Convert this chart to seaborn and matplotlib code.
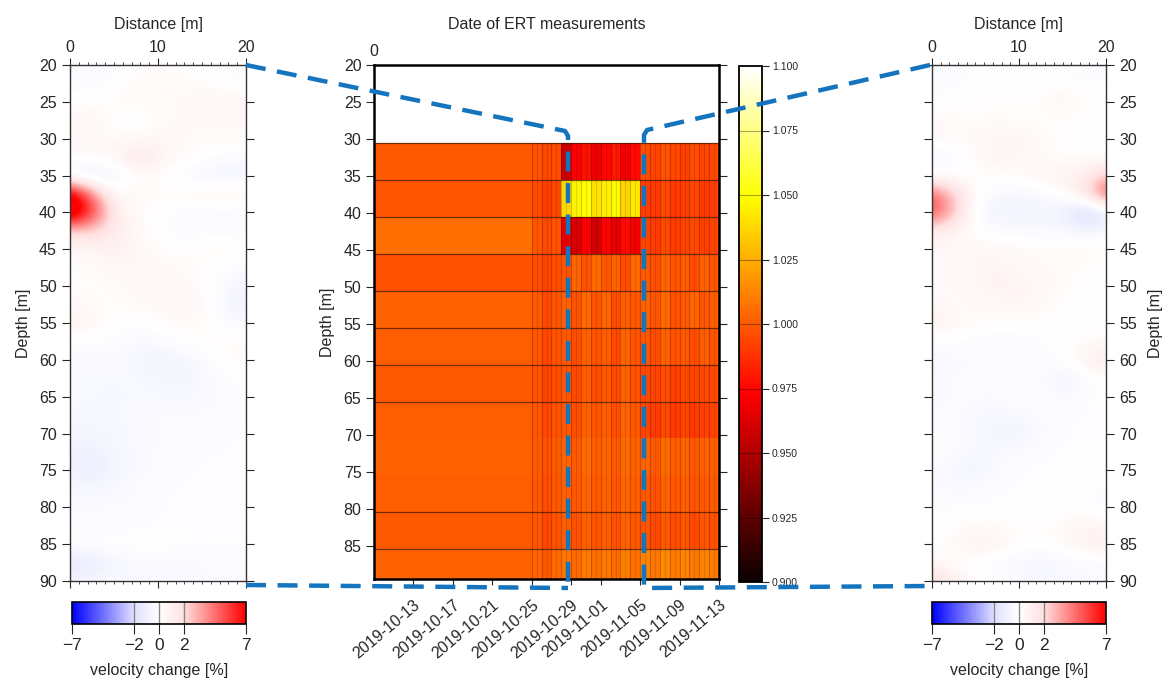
import numpy as np
import pandas as pd
import matplotlib
matplotlib.use("Agg")
import matplotlib.pyplot as plt
import seaborn as sns
from matplotlib.colors import LinearSegmentedColormap, Normalize
from matplotlib.lines import Line2D
import matplotlib.cm as cm

sns.set_style("ticks")
plt.rcParams["font.family"] = ["Liberation Sans", "DejaVu Sans"]

# ---------------- data ----------------
# velocity-change grids (percent); rows = depth 20..90 step 2.5, cols = distance 0..20 step 2.5
vc_depths = [20, 22.5, 25, 27.5, 30, 32.5, 35, 37.5, 40, 42.5, 45, 47.5, 50, 52.5, 55,
             57.5, 60, 62.5, 65, 67.5, 70, 72.5, 75, 77.5, 80, 82.5, 85, 87.5, 90]
vc_dist = [0, 2.5, 5, 7.5, 10, 12.5, 15, 17.5, 20]

vc_left = [
    [-0.3, -0.4, -0.3, 0.1, 0.3, 0.2, -0.1, -0.3, -0.3],
    [-0.3, -0.2, 0.0, 0.3, 0.4, 0.3, 0.2, 0.0, -0.1],
    [0.2, 0.0, 0.3, 0.4, 0.3, 0.4, 0.6, 0.7, 0.6],
    [0.7, 0.6, 0.1, -0.3, 0.3, 0.4, 0.4, 0.5, 0.4],
    [0.5, 0.4, 0.3, 0.4, 0.5, 0.4, 0.3, 0.3, 0.3],
    [0.3, 0.4, 0.7, 1.6, 1.0, 0.4, 0.1, -0.2, -0.3],
    [-0.8, -1.5, -1.0, 0.3, 0.0, -0.3, -0.7, -0.8, -0.7],
    [8.5, 4.0, 0.3, 0.4, 0.3, 0.4, 0.7, 0.8, 0.7],
    [9.5, 6.0, 1.2, 0.3, 0.0, -0.3, -0.4, -0.4, -0.4],
    [2.0, 2.2, 1.3, 0.4, 0.0, -0.3, -0.3, -0.3, -0.3],
    [0.4, 0.6, 0.8, 0.5, 0.3, 0.0, 0.3, 0.4, 0.1],
    [0.1, 0.3, 0.5, 0.7, 0.4, 0.4, 0.1, -0.1, -0.3],
    [0.3, 0.1, 0.3, 0.5, 0.7, 0.5, 0.3, -0.4, -0.7],
    [0.4, 0.3, 0.1, 0.3, 0.5, 0.7, 0.3, -0.5, -0.8],
    [1.1, 0.5, 0.1, 0.0, 0.1, 0.4, 0.3, -0.3, -0.5],
    [-0.3, -0.1, -0.3, -0.4, -0.3, 0.0, 0.1, 0.3, 0.4],
    [-0.4, -0.4, -0.3, -0.5, -0.8, -0.7, -0.3, 0.1, 0.4],
    [-0.4, -0.4, -0.4, -0.4, -0.5, -0.7, -0.5, -0.1, 0.1],
    [-0.4, -0.4, -0.5, -0.4, -0.4, -0.4, -0.4, -0.3, -0.1],
    [-0.4, -0.5, -0.4, -0.4, -0.3, -0.3, -0.3, -0.3, -0.1],
    [-0.6, -0.5, -0.5, -0.4, -0.3, -0.3, -0.3, -0.1, -0.1],
    [-0.8, -0.9, -0.5, -0.4, -0.3, -0.3, -0.1, -0.1, -0.1],
    [-0.8, -1.2, -0.6, -0.4, -0.3, -0.1, -0.1, -0.1, -0.1],
    [-0.4, -0.5, -0.4, -0.3, -0.1, -0.1, -0.1, -0.1, -0.1],
    [-0.3, -0.3, -0.3, -0.3, -0.1, -0.1, -0.1, -0.1, -0.1],
    [-0.3, -0.3, -0.3, -0.1, -0.1, -0.1, -0.1, -0.1, -0.1],
    [0.1, 0.1, 0.1, 0.1, 0.1, 0.0, 0.0, 0.0, 0.0],
    [-1.8, -1.3, -0.7, -0.5, -0.4, -0.4, -0.4, -0.3, -0.3],
    [-0.5, -0.4, -0.3, -0.3, -0.3, -0.3, -0.3, -0.3, -0.3],
]

vc_right = [
    [-0.3, -0.3, -0.1, -0.1, -0.1, -0.1, -0.1, -0.3, -0.3],
    [-0.3, -0.1, 0.0, 0.0, 0.0, 0.0, 0.0, -0.1, -0.1],
    [-0.1, 0.0, 0.1, 0.1, 0.1, 0.3, 0.7, 0.3, 0.0],
    [0.6, 0.3, 0.1, 0.3, 0.1, 0.1, 0.1, 0.0, -0.1],
    [0.4, 0.3, 0.6, 0.7, 0.8, 0.4, 0.1, 0.0, -0.1],
    [-0.6, -0.4, 0.3, 0.7, 0.6, 0.3, 0.1, 0.1, 0.0],
    [-0.1, 0.0, 0.1, 0.1, 0.3, 0.7, 0.8, 1.2, 2.5],
    [5.0, 2.5, 0.1, -0.4, -0.5, -0.4, 0.1, 1.5, 5.5],
    [5.5, 2.8, -0.3, -0.8, -0.8, -0.7, -0.8, -2.8, -1.5],
    [1.2, 0.7, 0.1, -0.3, -0.3, -0.4, -0.4, -0.6, -0.3],
    [0.3, 0.4, 0.5, 0.5, 0.4, 0.3, 0.3, 0.4, 0.3],
    [0.3, 0.4, 0.7, 0.7, 0.5, 0.4, 0.3, 0.1, 0.1],
    [0.3, 0.4, 0.5, 0.8, 0.7, 0.5, 0.3, 0.1, 0.0],
    [0.4, 0.3, 0.4, 0.5, 0.7, 0.4, 0.1, 0.0, -0.1],
    [1.1, 0.5, 0.3, 0.1, 0.1, 0.1, 0.0, -0.1, -0.1],
    [-0.3, -0.1, -0.3, -0.3, -0.3, -0.1, 0.0, 0.3, 0.4],
    [-0.4, -0.4, -0.3, -0.3, -0.3, -0.1, -0.1, 0.8, 1.4],
    [-0.4, -0.3, -0.3, -0.3, -0.1, -0.3, -0.8, -0.3, 0.1],
    [-0.4, -0.3, -0.3, -0.3, -0.1, -0.1, -0.4, -0.1, 0.0],
    [-0.3, -0.3, -0.4, -0.5, -0.4, -0.3, -0.1, -0.1, -0.1],
    [-0.1, -0.3, -0.4, -0.7, -0.7, -0.4, -0.1, -0.1, -0.1],
    [-0.1, -0.3, -0.4, -0.4, -0.3, -0.1, -0.1, 0.0, 0.0],
    [-0.3, -0.5, -0.7, -0.4, -0.1, -0.1, 0.0, 0.0, 0.0],
    [-0.3, -0.4, -0.3, -0.1, -0.1, 0.0, 0.0, 0.0, -0.1],
    [-0.1, -0.1, -0.1, -0.1, 0.0, 0.0, 0.0, -0.1, -0.4],
    [0.0, 0.1, 0.3, 0.3, 0.1, 0.1, 0.4, 0.8, 0.5],
    [0.0, 0.4, 1.1, 0.8, 0.1, 0.1, 0.3, 0.9, 1.1],
    [0.5, 0.1, -0.3, -0.4, -0.5, -0.7, -0.5, -0.4, -0.3],
    [2.2, 1.1, 0.3, -0.1, -0.3, -0.3, -0.3, -0.3, -0.3],
]

# ERT ratio: depth bins (top edges, 5 m thick) x dates
ert_bin_tops = [30.5, 35.5, 40.5, 45.5, 50.5, 55.5, 60.5, 65.5, 70.5, 75.5, 80.5, 85.5]
ert_early_dates = pd.date_range("2019-10-09", "2019-10-24").strftime("%Y-%m-%d").tolist()
ert_early_values = [1.000, 0.998, 1.006, 0.997, 1.002, 1.001, 1.000, 1.001, 1.002, 1.001, 1.000, 1.002]
ert_late_dates = pd.date_range("2019-10-25", "2019-11-12").strftime("%Y-%m-%d").tolist()
ert_late_values = [
    [0.997, 0.994, 0.996, 0.958, 0.972, 0.978, 0.968, 0.975, 0.980, 0.970, 0.976, 0.996, 0.993, 0.997, 0.994, 0.992, 0.996, 0.993, 0.995],
    [0.995, 0.992, 0.994, 1.038, 1.046, 1.050, 1.040, 1.044, 1.048, 1.036, 1.042, 0.992, 0.990, 0.994, 0.990, 0.992, 0.994, 0.990, 0.992],
    [0.998, 0.995, 0.997, 0.966, 0.962, 0.972, 0.960, 0.974, 0.966, 0.976, 0.970, 0.993, 0.991, 0.995, 0.991, 0.993, 0.995, 0.992, 0.993],
    [0.996, 0.993, 0.996, 0.998, 1.003, 0.997, 1.005, 0.999, 1.002, 0.996, 1.004, 1.000, 0.997, 1.003, 0.998, 1.001, 0.996, 1.002, 0.999],
    [1.000, 0.995, 0.998, 1.002, 0.997, 1.004, 0.998, 1.003, 0.996, 1.001, 0.999, 1.002, 0.998, 1.004, 0.997, 1.000, 1.003, 0.998, 1.001],
    [0.998, 0.994, 0.997, 1.000, 0.996, 1.002, 0.997, 1.001, 0.995, 1.003, 0.998, 0.999, 0.996, 1.002, 0.997, 1.000, 0.996, 1.001, 0.998],
    [0.997, 0.993, 0.996, 0.999, 0.995, 1.001, 0.996, 1.000, 0.995, 1.002, 0.997, 0.995, 0.993, 0.996, 0.992, 0.995, 0.993, 0.994, 0.995],
    [0.998, 0.994, 0.997, 1.000, 0.996, 1.002, 0.998, 1.001, 0.996, 1.003, 0.999, 0.993, 0.991, 0.994, 0.990, 0.993, 0.990, 0.992, 0.993],
    [1.000, 0.997, 1.000, 1.003, 1.000, 1.004, 1.001, 1.003, 1.000, 1.004, 1.002, 1.003, 1.000, 1.004, 1.001, 1.003, 1.000, 1.002, 1.001],
    [0.999, 0.996, 0.999, 1.002, 0.999, 1.003, 1.000, 1.002, 0.999, 1.003, 1.001, 1.000, 0.997, 1.002, 0.999, 1.001, 0.998, 1.000, 1.000],
    [0.998, 0.994, 0.997, 1.001, 0.997, 1.002, 0.998, 1.001, 0.997, 1.002, 0.999, 0.998, 0.995, 1.000, 0.996, 0.999, 0.995, 0.998, 0.997],
    [1.003, 1.000, 1.004, 1.008, 1.004, 1.010, 1.006, 1.009, 1.005, 1.011, 1.007, 1.012, 1.008, 1.014, 1.010, 1.013, 1.009, 1.012, 1.010],
]
ert_tick_dates = ["2019-10-13", "2019-10-17", "2019-10-21", "2019-10-25", "2019-10-29",
                  "2019-11-01", "2019-11-05", "2019-11-09", "2019-11-13"]
depth_ticks_mid = [20, 25, 30, 35, 40, 45, 50, 55, 60, 65, 70, 75, 80, 85]
depth_ticks_side = [20, 25, 30, 35, 40, 45, 50, 55, 60, 65, 70, 75, 80, 85, 90]
cbar_ticks_ert = [0.900, 0.925, 0.950, 0.975, 1.000, 1.025, 1.050, 1.075, 1.100]
cbar_ticks_vc = [-7, -2, 0, 2, 7]

# ---------------- figure ----------------
W, H = 1172, 684
fig = plt.figure(figsize=(W / 100, H / 100), dpi=100)


def rect(x0, y0, x1, y1):
    return [x0 / W, 1 - y1 / H, (x1 - x0) / W, (y1 - y0) / H]


axL = fig.add_axes(rect(70, 65, 246, 581))
caxL = fig.add_axes(rect(72, 602, 246, 624))
axM = fig.add_axes(rect(374, 65, 719, 579))
caxM = fig.add_axes(rect(739, 66, 762, 582))
axR = fig.add_axes(rect(932, 65, 1106, 581))
caxR = fig.add_axes(rect(932, 602, 1106, 624))

FS = 11.5
vc_cmap = LinearSegmentedColormap.from_list(
    "vc", [(0, "#0000ff"), (5 / 14, "#e0e0ff"), (0.5, "#ffffff"), (9 / 14, "#ffe0e0"), (1, "#ff0000")])
vc_norm = Normalize(-7, 7)

dx = vc_dist[1] - vc_dist[0]
dz = vc_depths[1] - vc_depths[0]
extent = (vc_dist[0] - dx / 2, vc_dist[-1] + dx / 2, vc_depths[-1] + dz / 2, vc_depths[0] - dz / 2)

for ax, grid, side in [(axL, vc_left, "left"), (axR, vc_right, "right")]:
    ax.imshow(np.array(grid), cmap=vc_cmap, norm=vc_norm, extent=extent,
              origin="upper", interpolation="bicubic", aspect="auto")
    ax.set_xlim(0, 20)
    ax.set_ylim(90, 20)
    ax.set_xticks([0, 10, 20])
    ax.set_xticks(np.arange(0, 21, 1), minor=True)
    ax.tick_params(axis="x", which="both", top=True, bottom=True, labeltop=True,
                   labelbottom=False, direction="out", labelsize=FS, pad=2)
    ax.tick_params(axis="x", which="major", length=5)
    ax.tick_params(axis="x", which="minor", length=2.5)
    ax.set_yticks(depth_ticks_side)
    ax.tick_params(axis="y", which="both", left=True, right=True, direction="out",
                   length=6, labelsize=FS,
                   labelleft=(side == "left"), labelright=(side == "right"))
    ax.xaxis.set_label_position("top")
    ax.set_xlabel("Distance [m]", fontsize=FS, labelpad=8)
    ax.yaxis.set_label_position(side)
    ax.set_ylabel("Depth [m]", fontsize=FS, labelpad=6 if side == "left" else 8)
    for s in ax.spines.values():
        s.set_visible(True)
        s.set_linewidth(1.0)
        s.set_color("#333333")

for cax in (caxL, caxR):
    cb = fig.colorbar(cm.ScalarMappable(norm=vc_norm, cmap=vc_cmap), cax=cax, orientation="horizontal")
    cb.set_ticks(cbar_ticks_vc)
    cb.set_ticklabels(["\u22127", "\u22122", "0", "2", "7"])
    cax.tick_params(labelsize=FS + 1, length=7, direction="out", pad=3)
    for v in (-2, 0, 2):
        cax.axvline(v, color="#888888", lw=1.0)
    cb.outline.set_linewidth(1.2)
    cb.outline.set_edgecolor("black")
    cb.set_label("velocity change [%]", fontsize=FS, labelpad=7)

# ---- middle ERT heatmap ----
ert_matrix = np.column_stack([np.repeat(np.array(ert_early_values)[:, None], len(ert_early_dates), axis=1),
                              np.array(ert_late_values)])
ert_df = pd.DataFrame(ert_matrix, index=[f"{t}" for t in ert_bin_tops],
                      columns=ert_early_dates + ert_late_dates)
sns.heatmap(ert_df, ax=axM, cmap="hot", vmin=0.9, vmax=1.1, cbar_ax=caxM,
            xticklabels=False, yticklabels=False)

start = pd.Timestamp(ert_early_dates[0])
ncol = ert_df.shape[1]
bin_h = ert_bin_tops[1] - ert_bin_tops[0]


def depth_to_row(d):
    return (d - ert_bin_tops[0]) / bin_h


axM.set_xlim(0, ncol)
axM.set_ylim(depth_to_row(89.5), depth_to_row(20))
axM.set_yticks([depth_to_row(d) for d in depth_ticks_mid])
axM.set_yticklabels([str(d) for d in depth_ticks_mid], fontsize=FS, rotation=0)
axM.set_xticks([(pd.Timestamp(d) - start).days for d in ert_tick_dates])
axM.set_xticklabels(ert_tick_dates, rotation=40, ha="right", rotation_mode="anchor", fontsize=11.5)
axM.tick_params(axis="y", left=True, right=True, direction="out", length=6, pad=3)
axM.tick_params(axis="x", bottom=True, direction="out", length=4, pad=9)
axM.set_ylabel("Depth [m]", fontsize=FS, labelpad=6)
axM.set_xlabel("")
axM.set_title("Date of ERT measurements", fontsize=FS, pad=26)
axM.text(0, 1.012, "0", transform=axM.transAxes, ha="center", va="bottom", fontsize=FS)
for s in axM.spines.values():
    s.set_visible(True)
    s.set_linewidth(1.8)
    s.set_color("black")

# cell edges
n_early = len(ert_early_dates)
for j in range(n_early, ncol):
    axM.vlines(j, 0, len(ert_bin_tops), color="black", alpha=0.22, lw=0.8)
    axM.vlines(j + 0.5, 0, len(ert_bin_tops), color="black", alpha=0.12, lw=0.8)
for i, t in enumerate(ert_bin_tops):
    if t in (70.5, 75.5):
        continue
    axM.hlines(i, 0, ncol, color="#3a1500", alpha=0.7, lw=0.9)

cbM = axM.collections[0].colorbar
cbM.set_ticks(cbar_ticks_ert)
cbM.set_ticklabels([f"{v:.3f}" for v in cbar_ticks_ert])
caxM.tick_params(labelsize=7.5, length=5, direction="out", pad=2)
for v in cbar_ticks_ert[1:-1]:
    caxM.axhline(v, color="black", alpha=0.35, lw=0.8)
cbM.outline.set_visible(True)
cbM.outline.set_linewidth(1.3)
cbM.outline.set_edgecolor("black")

# ---- connector dashed lines ----
def fig_pts(pts):
    return [p[0] / W for p in pts], [1 - p[1] / H for p in pts]


conn_style = dict(color="#1474bd", lw=3.2, linestyle=(0, (4.5, 2.6)), solid_capstyle="butt",
                  dash_capstyle="butt", transform=fig.transFigure, zorder=20)
for pts in ([(246, 65), (565, 131), (568, 136), (568, 590)],
            [(246, 585), (568, 588)],
            [(930, 65), (647, 130), (644, 135), (644, 588), (930, 586)]):
    xs, ys = fig_pts(pts)
    fig.add_artist(Line2D(xs, ys, **conn_style))

fig.savefig("out.png", dpi=100)
